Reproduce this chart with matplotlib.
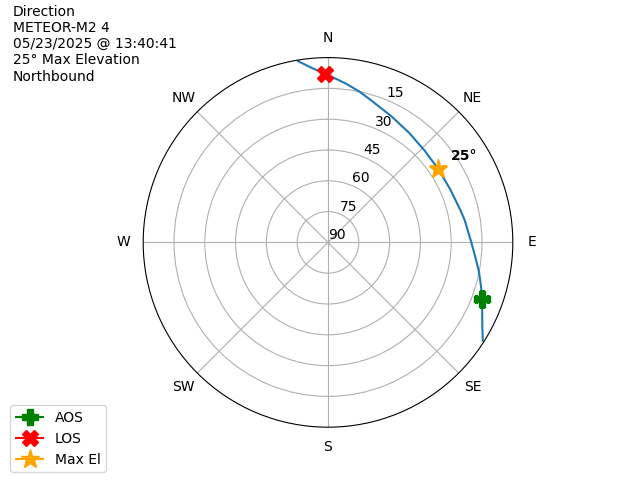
import numpy as np
import matplotlib
matplotlib.use('Agg')
import matplotlib.pyplot as plt

# pass track, azimuth (deg, clockwise from N) and elevation (deg)
track_az = [122.4, 118.5, 114.0, 110.1, 106.5, 101.2, 96.5, 90.0, 81.0, 76.5, 66.5,
            56.5, 46.5, 36.5, 26.5, 16.5, 11.8, 6.5, -1.0, -5.5, -9.4]
track_el = [0.7, 4.5, 7.8, 10.2, 12.2, 15.0, 17.5, 20.2, 22.5, 23.6, 25.1,
            25.5, 25.1, 23.6, 21.2, 17.5, 15.0, 12.2, 7.8, 4.5, 0.5]

aos_az, aos_el = 110.1, 10.2
los_az, los_el = -1.0, 7.8
max_az, max_el = 56.5, 25.5

compass = ['N', 'NE', 'E', 'SE', 'S', 'SW', 'W', 'NW']
el_ticks = [90, 75, 60, 45, 30, 15]

header = "Direction\nMETEOR-M2 4\n05/23/2025 @ 13:40:41\n25° Max Elevation\nNorthbound"


def r_of(el):
    return 90 - np.asarray(el)


fig = plt.figure(figsize=(6.4, 4.8), dpi=100)
ax = fig.add_subplot(111, projection='polar')
ax.set_theta_zero_location('N')
ax.set_theta_direction(-1)

ax.plot(np.radians(track_az), r_of(track_el), linewidth=1.5)
ax.plot([np.radians(aos_az)], [r_of(aos_el)], marker='P', color='green', markersize=12, label='AOS')
ax.plot([np.radians(los_az)], [r_of(los_el)], marker='X', color='red', markersize=12, label='LOS')
ax.plot([np.radians(max_az)], [r_of(max_el)], marker='*', color='orange', markersize=14, label='Max El')
ax.annotate('25°', xy=(np.radians(max_az), r_of(max_el)), xytext=(12, 6),
            textcoords='offset pixels', fontweight='bold', ha='left', va='bottom')

ax.set_rlim(0, 90)
ax.set_yticks(r_of(el_ticks))
ax.set_yticklabels([str(e) for e in el_ticks])
ax.set_xticks(np.radians(np.arange(0, 360, 45)))
ax.set_xticklabels(compass)
ax.grid(True)

fig.text(0.02, 0.99, header, ha='left', va='top')
fig.legend(loc='lower left', bbox_to_anchor=(0.005, 0.002))

plt.savefig('out.png')
